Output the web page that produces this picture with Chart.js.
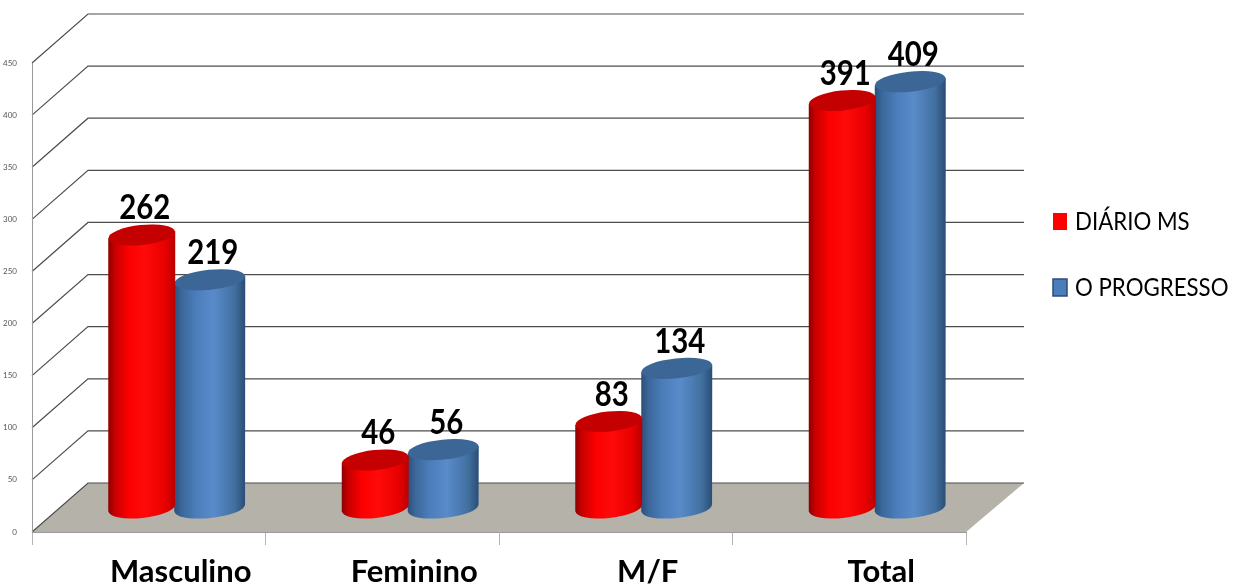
<!DOCTYPE html>
<html>
<head>
<meta charset="utf-8">
<style>
  html, body { margin: 0; padding: 0; background: #fff; }
  canvas { display: block; }
</style>
</head>
<body>
<canvas id="chart" width="1245" height="587"></canvas>
<script src="https://cdn.jsdelivr.net/npm/chart.js@4/dist/chart.umd.js"></script>
<script>
const categories = ['Masculino', 'Feminino', 'M/F', 'Total'];
const diarioMs = [262, 46, 83, 391];
const oProgresso = [219, 56, 134, 409];
const seriesNames = ['DIÁRIO MS', 'O PROGRESSO'];
const yTicks = [0, 50, 100, 150, 200, 250, 300, 350, 400, 450];

const RED = '#ff0000';
const BLUE = '#4a7ebb';

// back wall sits this far from the front axis, the cylinders halfway
const wallDx = 56, wallDy = -49;
const barDx = 27, barDy = -24;
const capRy = 10, capTilt = -6 * Math.PI / 180;

const shades = {
    [RED]: {
        cap: '#c40000',
        stops: [[0, '#8f0000'], [0.1, '#c80000'], [0.3, '#fb0000'], [0.55, '#ff0a0a'], [0.85, '#e80000'], [1, '#b80000']]
    },
    [BLUE]: {
        cap: '#3c6696',
        stops: [[0, '#2b4f7b'], [0.1, '#3b6699'], [0.3, '#4a7dba'], [0.55, '#598bca'], [0.85, '#41709f'], [1, '#2a4d75']]
    }
};

class CylinderBar extends Chart.BarElement {
    static id = 'cylinderBar';

    draw(ctx) {
        const { x, y, base, width } = this.getProps(['x', 'y', 'base', 'width']);
        const shade = shades[this.options.backgroundColor];
        const r = width / 2;
        const cx = x + barDx, top = y + barDy, bottom = base + barDy;
        const slip = r * Math.sin(capTilt);

        const grad = ctx.createLinearGradient(cx - r, 0, cx + r, 0);
        shade.stops.forEach(s => grad.addColorStop(s[0], s[1]));

        ctx.save();
        ctx.fillStyle = grad;
        ctx.beginPath();
        ctx.moveTo(cx - r, top - slip);
        ctx.lineTo(cx - r, bottom - slip);
        ctx.ellipse(cx, bottom, r, capRy, capTilt, Math.PI, 0, true);
        ctx.lineTo(cx + r, top + slip);
        ctx.closePath();
        ctx.fill();

        ctx.fillStyle = shade.cap;
        ctx.beginPath();
        ctx.ellipse(cx, top, r, capRy, capTilt, 0, Math.PI * 2);
        ctx.fill();
        ctx.restore();
    }
}

class CylinderController extends Chart.BarController {
    static id = 'cylinder';
    static defaults = { ...Chart.BarController.defaults, dataElementType: 'cylinderBar' };
    static overrides = Chart.BarController.overrides;
}

Chart.register(CylinderBar, CylinderController);

// reference text is narrower than Lato, so squeeze it sideways
function narrowText(ctx, text, x, y, squeeze) {
    ctx.save();
    ctx.translate(x, y);
    ctx.scale(squeeze, 1);
    ctx.fillText(text, 0, 0);
    ctx.restore();
}

const wallPlugin = {
    id: 'wall',
    beforeDraw(chart) {
        const { ctx, chartArea: area, scales: { y } } = chart;
        const zero = y.getPixelForValue(0);
        ctx.save();
        ctx.fillStyle = '#b5b2aa';
        ctx.beginPath();
        ctx.moveTo(area.left, zero);
        ctx.lineTo(area.left + wallDx, zero + wallDy);
        ctx.lineTo(area.right + wallDx + 2, zero + wallDy);
        ctx.lineTo(area.right, zero);
        ctx.closePath();
        ctx.fill();

        ctx.strokeStyle = '#4d4d4d';
        ctx.lineWidth = 1.2;
        yTicks.forEach(v => {
            const py = y.getPixelForValue(v);
            ctx.beginPath();
            ctx.moveTo(area.left, py);
            ctx.lineTo(area.left + wallDx, py + wallDy);
            ctx.lineTo(area.right + wallDx + 2, py + wallDy);
            ctx.stroke();
        });
        ctx.restore();
    }
};

const labelPlugin = {
    id: 'valueLabels',
    afterDatasetsDraw(chart) {
        const { ctx } = chart;
        ctx.save();
        ctx.font = 'bold 35px Lato';
        ctx.fillStyle = '#000';
        ctx.textAlign = 'center';
        ctx.textBaseline = 'middle';
        chart.data.datasets.forEach((ds, i) => {
            chart.getDatasetMeta(i).data.forEach((bar, j) => {
                narrowText(ctx, ds.data[j], bar.x + barDx + 3, bar.y + barDy - 27, 0.84);
            });
        });
        ctx.restore();
    }
};

const legendPlugin = {
    id: 'sideLegend',
    afterDraw(chart) {
        const { ctx } = chart;
        const rows = [222, 288];
        ctx.save();
        ctx.font = '25px Lato';
        ctx.textBaseline = 'middle';
        seriesNames.forEach((name, i) => {
            ctx.fillStyle = chart.data.datasets[i].backgroundColor;
            ctx.fillRect(1053, rows[i] - 9, 14, 17);
            if (i === 1) {
                ctx.strokeStyle = '#2c4d76';
                ctx.lineWidth = 1.5;
                ctx.strokeRect(1053, rows[i] - 9, 14, 17);
            }
            ctx.fillStyle = '#000';
            narrowText(ctx, name, 1075, rows[i], 0.89);
        });
        ctx.restore();
    }
};

new Chart(document.getElementById('chart'), {
    type: 'cylinder',
    data: {
        labels: categories,
        datasets: [
            { label: seriesNames[0], data: diarioMs, backgroundColor: RED, categoryPercentage: 0.5825, barPercentage: 0.985 },
            { label: seriesNames[1], data: oProgresso, backgroundColor: BLUE, categoryPercentage: 0.5825, barPercentage: 1.044 }
        ]
    },
    options: {
        responsive: false,
        devicePixelRatio: 1,
        animation: false,
        layout: { autoPadding: false, padding: { left: 0, top: 63, right: 279, bottom: 0 } },
        plugins: {
            legend: { display: false },
            tooltip: { enabled: false }
        },
        scales: {
            x: {
                afterFit: scale => { scale.height = 55; },
                grid: { drawOnChartArea: false, tickLength: 13, color: '#b5b5b5' },
                border: { color: '#9a9a9a' },
                ticks: {
                    color: '#000',
                    font: { family: 'Lato', weight: 'bold', size: 31 },
                    labelOffset: 32,
                    padding: 8,
                    maxRotation: 0
                }
            },
            y: {
                min: 0,
                max: 450,
                afterFit: scale => { scale.width = 32; },
                afterBuildTicks: scale => { scale.ticks = yTicks.map(value => ({ value })); },
                grid: { display: false },
                border: { color: '#9a9a9a' },
                ticks: {
                    color: '#555',
                    font: { family: 'Lato', size: 8 },
                    padding: 7
                }
            }
        }
    },
    plugins: [wallPlugin, labelPlugin, legendPlugin]
});
</script>
</body>
</html>
